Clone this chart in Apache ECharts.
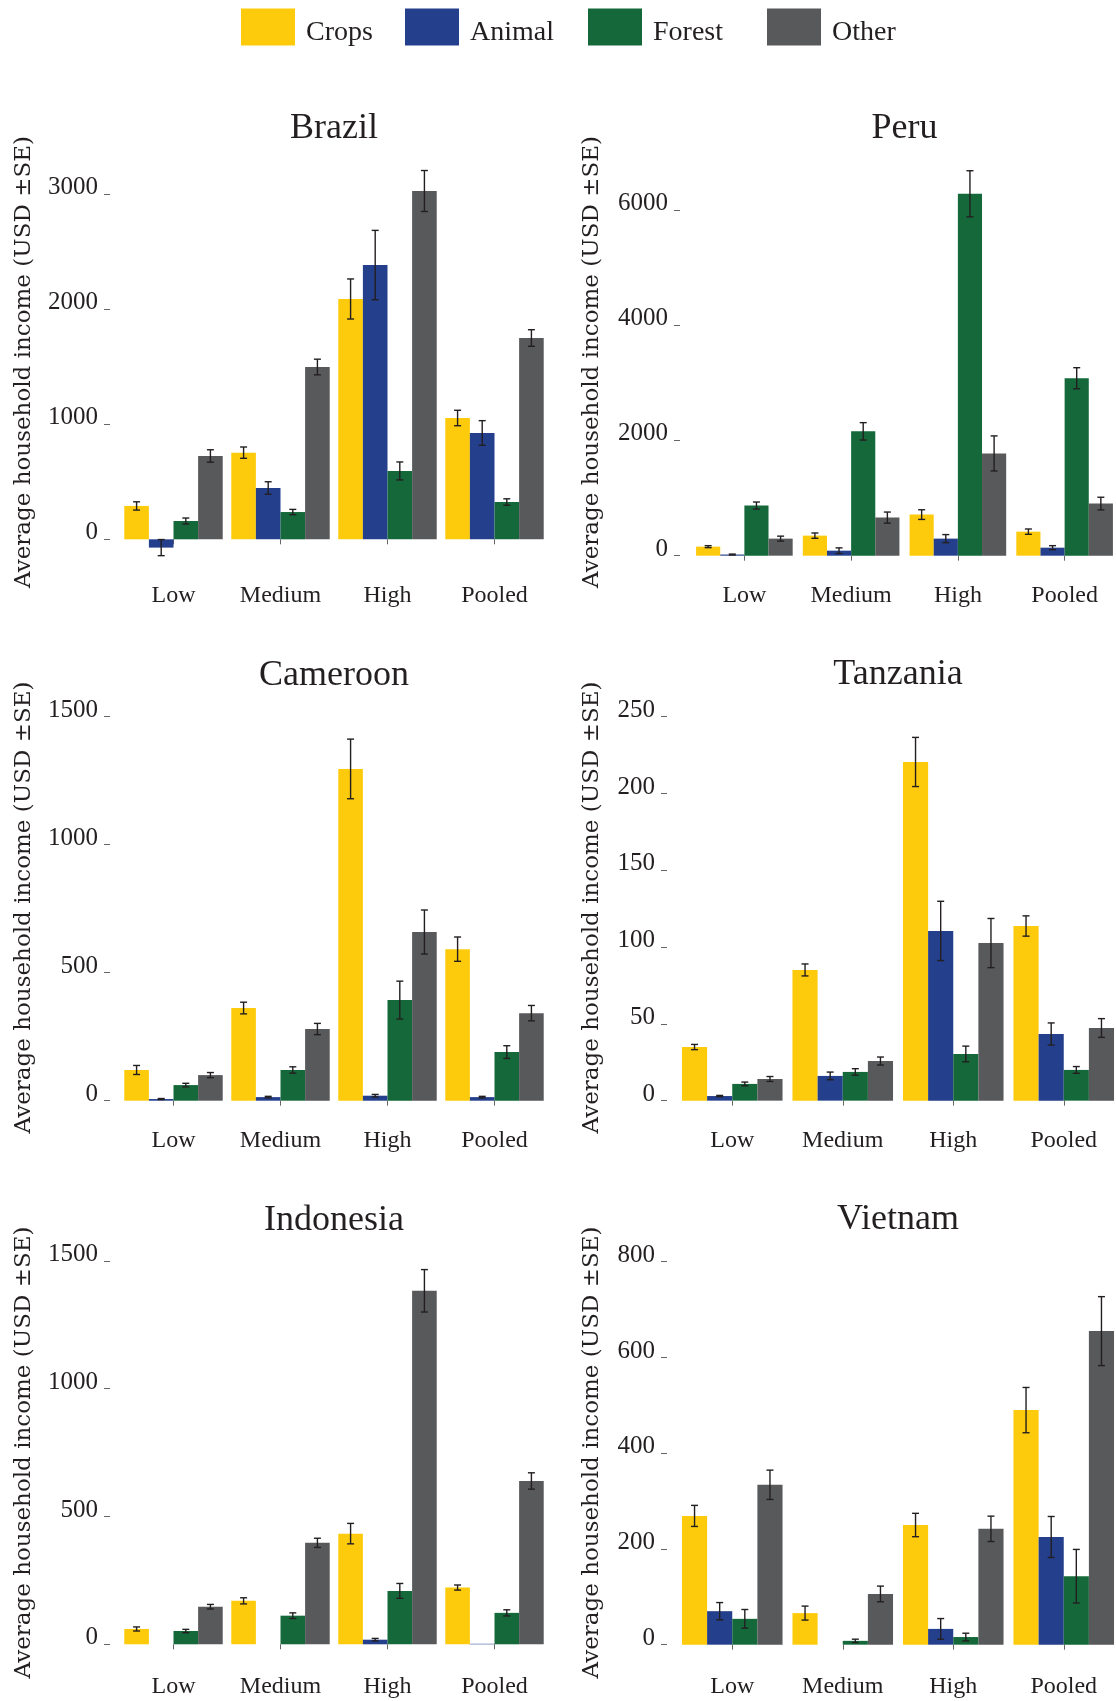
<!DOCTYPE html>
<html>
<head>
<meta charset="utf-8">
<script src="https://cdn.jsdelivr.net/npm/echarts@6/dist/echarts.min.js"></script>
<style>
html, body { margin: 0; padding: 0; background: #ffffff; }
#chart { width: 1116px; height: 1701px; }
</style>
</head>
<body>
<div id="chart"></div>
<script>
// ---------------- data ----------------
const categories = ['Low', 'Medium', 'High', 'Pooled'];
const seriesNames = ['Crops', 'Animal', 'Forest', 'Other'];
const seriesColors = ['#FDCB0B', '#243F8C', '#14683A', '#58595B'];

// Brazil
const brazilCrops    = [290, 753, 2088, 1054];
const brazilAnimal   = [-72, 446, 2383, 924];
const brazilForest   = [159, 237, 594, 324];
const brazilOther    = [724, 1497, 3026, 1749];
const brazilCropsSE  = [36, 49, 174, 67];
const brazilAnimalSE = [70, 54, 301, 107];
const brazilForestSE = [26, 23, 78, 28];
const brazilOtherSE  = [54, 68, 178, 72];
const brazilTicks    = [0, 1000, 2000, 3000];

// Peru
const peruCrops    = [157, 348, 713, 417];
const peruAnimal   = [20, 87, 296, 139];
const peruForest   = [870, 2157, 6278, 3078];
const peruOther    = [296, 661, 1774, 904];
const peruCropsSE  = [17, 46, 84, 46];
const peruAnimalSE = [8, 49, 70, 35];
const peruForestSE = [61, 151, 400, 183];
const peruOtherSE  = [43, 96, 304, 110];
const peruTicks    = [0, 2000, 4000, 6000];

// Cameroon
const cameroonCrops    = [120, 362, 1296, 592];
const cameroonAnimal   = [6.5, 14, 19.5, 14];
const cameroonForest   = [61, 120, 393, 190];
const cameroonOther    = [100, 280, 659, 342];
const cameroonCropsSE  = [17.6, 22.8, 116.5, 47.5];
const cameroonAnimalSE = [2, 3, 5, 3];
const cameroonForestSE = [7, 12.4, 74, 24.7];
const cameroonOtherSE  = [10, 22, 86, 30];
const cameroonTicks    = [0, 500, 1000, 1500];

// Tanzania
const tanzaniaCrops    = [34.9, 85.1, 220.5, 113.7];
const tanzaniaAnimal   = [3.0, 16.1, 110.5, 43.4];
const tanzaniaForest   = [10.9, 18.7, 30.4, 20];
const tanzaniaOther    = [14.1, 25.8, 102.6, 47.3];
const tanzaniaCropsSE  = [1.7, 3.9, 16, 6.6];
const tanzaniaAnimalSE = [0.4, 2.5, 19.3, 7.2];
const tanzaniaForestSE = [1.2, 2.1, 5.1, 2.2];
const tanzaniaOtherSE  = [1.6, 2.6, 16, 6.1];
const tanzaniaTicks    = [0, 50, 100, 150, 200, 250];

// Indonesia
const indonesiaCrops    = [60, 170, 433, 222];
const indonesiaAnimal   = [0, 0, 18, 2];
const indonesiaForest   = [52, 112, 209, 123];
const indonesiaOther    = [147, 397, 1383, 639];
const indonesiaCropsSE  = [8, 12, 40, 10];
const indonesiaAnimalSE = [0, 0, 5, 0];
const indonesiaForestSE = [6.5, 11, 29, 12];
const indonesiaOtherSE  = [9, 18, 83, 32];
const indonesiaTicks    = [0, 500, 1000, 1500];

// Vietnam
const vietnamCrops    = [269, 66, 250, 490];
const vietnamAnimal   = [70, 0, 33, 225];
const vietnamForest   = [54, 8, 16, 143];
const vietnamOther    = [334, 106, 242, 655];
const vietnamCropsSE  = [22, 14.6, 24.4, 47.3];
const vietnamAnimalSE = [18, 0, 21.6, 42.8];
const vietnamForestSE = [19.5, 3.5, 8, 56];
const vietnamOtherSE  = [30.6, 16.4, 26.5, 72];
const vietnamTicks    = [0, 200, 400, 600, 800];

const yAxisTitle = 'Average household income (USD \u00B1SE)';

// ---------------- layout ----------------
const panels = [
  { title: 'Brazil', values: [brazilCrops, brazilAnimal, brazilForest, brazilOther],
    se: [brazilCropsSE, brazilAnimalSE, brazilForestSE, brazilOtherSE], ticks: brazilTicks,
    left: 120, width: 428, top: 149, bottom: 575, min: -310, max: 3391, offset: 10, nameGap: 74, gap: 0.08, titleTop: 111 },
  { title: 'Peru', values: [peruCrops, peruAnimal, peruForest, peruOther],
    se: [peruCropsSE, peruAnimalSE, peruForestSE, peruOtherSE], ticks: peruTicks,
    left: 691, width: 427, top: 149, bottom: 575, min: -335, max: 7055, offset: 11, nameGap: 76, gap: 0.095, titleTop: 111 },
  { title: 'Cameroon', values: [cameroonCrops, cameroonAnimal, cameroonForest, cameroonOther],
    se: [cameroonCropsSE, cameroonAnimalSE, cameroonForestSE, cameroonOtherSE], ticks: cameroonTicks,
    left: 120, width: 428, top: 695, bottom: 1120, min: -75.4, max: 1584.8, offset: 10, nameGap: 74, gap: 0.08, titleTop: 657.5 },
  { title: 'Tanzania', values: [tanzaniaCrops, tanzaniaAnimal, tanzaniaForest, tanzaniaOther],
    se: [tanzaniaCropsSE, tanzaniaAnimalSE, tanzaniaForestSE, tanzaniaOtherSE], ticks: tanzaniaTicks,
    left: 677, width: 442, top: 695, bottom: 1120, min: -12.6, max: 264.1, offset: 10, nameGap: 63, gap: 0.09, titleTop: 656.5 },
  { title: 'Indonesia', values: [indonesiaCrops, indonesiaAnimal, indonesiaForest, indonesiaOther],
    se: [indonesiaCropsSE, indonesiaAnimalSE, indonesiaForestSE, indonesiaOtherSE], ticks: indonesiaTicks,
    left: 120, width: 428, top: 1239, bottom: 1666, min: -84.9, max: 1585.7, offset: 10, nameGap: 74, gap: 0.08, titleTop: 1203 },
  { title: 'Vietnam', values: [vietnamCrops, vietnamAnimal, vietnamForest, vietnamOther],
    se: [vietnamCropsSE, vietnamAnimalSE, vietnamForestSE, vietnamOtherSE], ticks: vietnamTicks,
    left: 677, width: 442, top: 1239, bottom: 1666, min: -44.5, max: 847.4, offset: 10, nameGap: 63, gap: 0.09, titleTop: 1201.5 }
];

const textColor = '#231F20';
const serif = 'Liberation Serif';

function errRender(gapRatio) {
  return function (params, api) {
    const cat = api.value(0), k = api.value(1), v = api.value(2), e = api.value(3);
    if (!(e > 0)) return null;
    const band = api.size([1, 0])[0];
    const barW = band * (1 - gapRatio) / 4;
    const x = api.coord([cat, v])[0] + (k - 1.5) * barW;
    const yTop = api.coord([cat, v + e])[1];
    const yBot = api.coord([cat, v - e])[1];
    const c = 3.5;
    const style = { stroke: '#231F20', lineWidth: 1.4 };
    return {
      type: 'group',
      children: [
        { type: 'line', shape: { x1: x, y1: yTop, x2: x, y2: yBot }, style: style },
        { type: 'line', shape: { x1: x - c, y1: yTop, x2: x + c, y2: yTop }, style: style },
        { type: 'line', shape: { x1: x - c, y1: yBot, x2: x + c, y2: yBot }, style: style }
      ]
    };
  };
}

const grids = [], xAxes = [], yAxes = [], titles = [], series = [];
const legendLefts = [241, 405, 588, 767];

panels.forEach(function (p, i) {
  grids.push({ left: p.left, width: p.width, top: p.top, height: p.bottom - p.top,
               containLabel: false, outerBoundsMode: 'none' });
  titles.push({
    text: p.title, left: p.left + p.width / 2, top: p.titleTop, textAlign: 'center', padding: 0,
    textStyle: { fontFamily: serif, fontSize: 36, fontWeight: 'normal', color: textColor }
  });
  xAxes.push({
    type: 'category', gridIndex: i, data: categories,
    axisLine: { show: false },
    axisTick: { show: true, alignWithLabel: true, length: 5, lineStyle: { color: '#666666', width: 1 } },
    axisLabel: { margin: 9, fontFamily: serif, fontSize: 24, color: textColor },
    splitLine: { show: false }
  });
  yAxes.push({
    type: 'value', gridIndex: i, min: p.min, max: p.max, offset: p.offset, position: 'left',
    name: yAxisTitle, nameLocation: 'middle', nameRotate: 90, nameGap: p.nameGap,
    nameTextStyle: { fontFamily: 'DejaVu Serif', fontSize: 23, color: textColor },
    axisLine: { show: false },
    splitLine: { show: false },
    axisTick: { show: true, length: 6, customValues: p.ticks, lineStyle: { color: '#666666', width: 1 } },
    axisLabel: {
      customValues: p.ticks, margin: 12, fontFamily: serif, fontSize: 25, color: textColor,
      formatter: function (v) { return '{t|' + v + '}'; },
      rich: { t: { fontFamily: serif, fontSize: 25, color: textColor, padding: [0, 0, 13, 0] } }
    }
  });
  p.values.forEach(function (vals, k) {
    series.push({
      type: 'bar', name: seriesNames[k], xAxisIndex: i, yAxisIndex: i, data: vals,
      barGap: '0%', barCategoryGap: (p.gap * 100) + '%',
      itemStyle: { color: seriesColors[k] }, silent: true
    });
  });
  const errData = [];
  categories.forEach(function (c, ci) {
    p.values.forEach(function (vals, k) {
      errData.push([ci, k, vals[ci], p.se[k][ci]]);
    });
  });
  series.push({
    type: 'custom', name: 'err' + i, xAxisIndex: i, yAxisIndex: i, data: errData,
    encode: { x: 0, y: 2 }, renderItem: errRender(p.gap), z: 10, silent: true
  });
});

const legends = seriesNames.map(function (n, k) {
  return {
    data: [n], left: legendLefts[k], top: 8.5, padding: 0, icon: 'rect',
    itemWidth: 54, itemHeight: 37, selectedMode: false,
    formatter: '{t|{name}}',
    textStyle: {
      fontFamily: serif, fontSize: 28, color: textColor,
      rich: { t: { fontFamily: serif, fontSize: 28, color: textColor, padding: [11, 0, 0, 6] } }
    }
  };
});

const chart = echarts.init(document.getElementById('chart'), null, { renderer: 'canvas' });
chart.setOption({
  animation: false,
  backgroundColor: '#ffffff',
  title: titles,
  legend: legends,
  grid: grids,
  xAxis: xAxes,
  yAxis: yAxes,
  series: series
});
</script>
</body>
</html>
